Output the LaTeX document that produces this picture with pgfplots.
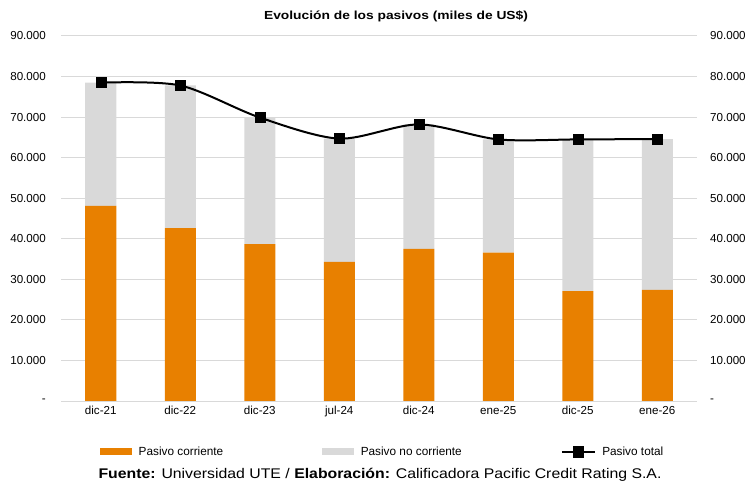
\documentclass[border=0pt]{standalone}
\usepackage{pgfplots}
\pgfplotsset{compat=1.18}
\usepackage{fontspec}
\setmainfont{Liberation Sans}
\definecolor{corr}{RGB}{232,128,0}
\definecolor{nocorr}{RGB}{217,217,217}
\definecolor{gridc}{RGB}{217,217,217}
\begin{document}
\begin{tikzpicture}[font=\fontsize{11.6bp}{13bp}\selectfont]
\path[use as bounding box] (0,0) rectangle (748bp,484bp);
\begin{axis}[
  at={(61bp,83bp)}, anchor=south west,
  scale only axis, width=636bp, height=365bp,
  xmin=-0.5, xmax=7.5, ymin=0, ymax=90000,
  ybar stacked, bar width=31bp,
  axis x line*=bottom, axis y line*=left,
  axis line style={draw=none},
  major tick length=0pt,
  scaled y ticks=false,
  ymajorgrids, grid style={gridc, line width=1pt},
  xtick={0,...,7},
  xticklabels={dic-21,dic-22,dic-23,jul-24,dic-24,ene-25,dic-25,ene-26},
  xticklabel style={anchor=north, inner sep=0pt, yshift=-5bp},
  ytick={0,10000,...,90000},
  yticklabels={{-\hspace{8bp}},10.000,20.000,30.000,40.000,50.000,60.000,70.000,80.000,90.000},
  yticklabel style={anchor=east, inner sep=0pt, xshift=-15bp},
  legend columns=3,
  legend style={at={(0.0613,-0.139)}, anchor=west, draw=none, fill=none, inner sep=0pt,
    font=\fontsize{11.8bp}{13bp}\selectfont,
    nodes={inner sep=0pt},
    /tikz/every odd column/.append style={column sep=6.5bp},
    /tikz/every even column/.append style={column sep=99bp}},
  legend cell align=left,
]
\addplot[fill=corr, draw=none, area legend,
  legend image code/.code={\fill[corr] (0bp,-3.5bp) rectangle (32bp,3.5bp);}]
  coordinates {(0,48100) (1,42600) (2,38700) (3,34300) (4,37500) (5,36600) (6,27100) (7,27400)};
\addlegendentry{Pasivo corriente}
\addplot[fill=nocorr, draw=none, area legend,
  legend image code/.code={\fill[nocorr] (0bp,-3.5bp) rectangle (32bp,3.5bp);}]
  coordinates {(0,30400) (1,35200) (2,31200) (3,30400) (4,30700) (5,27900) (6,37400) (7,37200)};
\addlegendentry{Pasivo no corriente}
\addlegendimage{legend image code/.code={
  \draw[black, line width=2bp] (0bp,0bp) -- (33bp,0bp);
  \fill[black] (11.5bp,-5.5bp) rectangle (21.5bp,5.5bp);}}
\addlegendentry{Pasivo total}
\end{axis}
\begin{axis}[
  at={(61bp,83bp)}, anchor=south west,
  scale only axis, width=636bp, height=365bp,
  xmin=-0.5, xmax=7.5, ymin=0, ymax=90000,
  hide x axis,
  axis y line*=right,
  axis line style={draw=none},
  major tick length=0pt,
  scaled y ticks=false,
  ytick={0,10000,...,90000},
  yticklabels={-,10.000,20.000,30.000,40.000,50.000,60.000,70.000,80.000,90.000},
  yticklabel style={anchor=west, inner sep=0pt, xshift=13bp},
]
\addplot[black, line width=2bp, smooth, mark=square*, mark size=5bp,
  mark options={solid, fill=black, line width=0.5bp}]
  coordinates {(0,78500) (1,77800) (2,69900) (3,64700) (4,68200) (5,64500) (6,64500) (7,64600)};
\end{axis}
\node[font=\fontsize{11.7bp}{13bp}\selectfont\bfseries] at (396bp,468bp) {\scalebox{1.18}[1]{Evolución de los pasivos (miles de US\$)}};
\node[font=\fontsize{14bp}{16bp}\selectfont] at (380bp,9.5bp) {\scalebox{1.13}[1]{\textbf{Fuente:} Universidad UTE / \textbf{Elaboración:} Calificadora Pacific Credit Rating S.A.}};
\end{tikzpicture}
\end{document}
